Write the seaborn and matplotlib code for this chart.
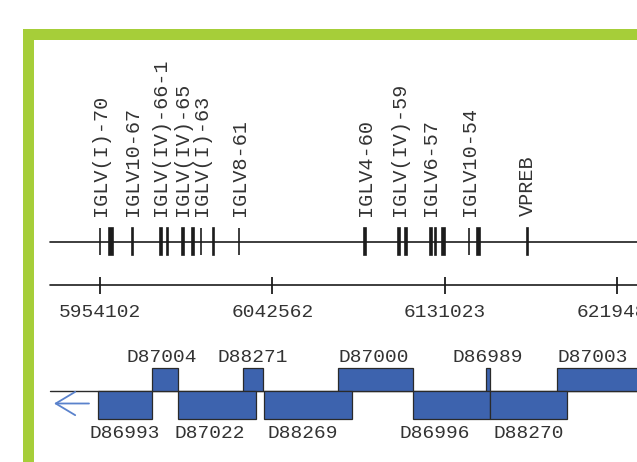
import matplotlib
matplotlib.use("Agg")
import matplotlib.pyplot as plt
from matplotlib.patches import Rectangle
import seaborn as sns

# --- data (genomic coordinates, bp) ---
gene_names = ["IGLV(I)-70", "", "IGLV10-67", "IGLV(IV)-66-1", "", "IGLV(IV)-65", "",
              "IGLV(I)-63", "", "IGLV8-61", "IGLV4-60", "IGLV(IV)-59", "", "IGLV6-57",
              "", "", "IGLV10-54", "", "VPREB"]
gene_pos = [5954080, 5959620, 5970650, 5985219, 5988605, 5996505, 6001789,
            6005893, 6012408, 6025387, 6090025, 6107467, 6111058, 6123729,
            6126089, 6130398, 6143377, 6148353, 6173490]
gene_len = [350, 1850, 350, 975, 350, 975, 1330,
            350, 350, 350, 1180, 1180, 1030, 975,
            670, 1330, 350, 1330, 350]

scale_ticks = [5954102, 6042562, 6131023, 6219484]

upper_clones = ["D87004", "D88271", "D87000", "D86989", "D87003"]
upper_start = [5980756, 6027439, 6076174, 6152098, 6188521]
upper_end = [5994094, 6037699, 6114649, 6154150, 6232000]

lower_clones = ["D86993", "D87022", "D88269", "D86996", "D88270"]
lower_start = [5953054, 5994094, 6038212, 6114649, 6154150]
lower_end = [5980756, 6034108, 6083356, 6154150, 6193651]

# --- layout ---
W, H = 637, 462
BP_PER_PX = 513.0
REF_PX, REF_BP = 358.7, 6086793
label_nudge_px = {"D87022": -7, "D88269": -5, "D86996": -17, "D87003": -7,
                  "D87004": -3, "D87000": -2}

GREEN = "#a6ce39"
BLUE = "#3d63ae"
EDGE = "#2a2a2a"
INK = "#1c1c1c"
TXT = "#333333"

sns.set_theme(style="white")
plt.rcParams["font.family"] = ["Liberation Mono", "DejaVu Sans Mono"]

fig = plt.figure(figsize=(W / 100, H / 100), dpi=100)
ax = fig.add_axes([0, 0, 1, 1])
ax.set_xlim(REF_BP - REF_PX * BP_PER_PX, REF_BP + (W - REF_PX) * BP_PER_PX)
ax.set_ylim(H, 0)
ax.axis("off")

x0 = 50 / W

# gene track
ax.axhline(241.5, xmin=x0, xmax=1, color=INK, lw=1.2)
ax.bar(gene_pos, [27] * len(gene_pos), width=gene_len, bottom=228,
       color=INK, edgecolor=INK, linewidth=1.2, align="center")
for name, p in zip(gene_names, gene_pos):
    if name:
        ax.text(p, 216, name, rotation=90, ha="center", va="bottom",
                fontsize=14.5, color=TXT)

# scale bar
ax.axhline(285, xmin=x0, xmax=1, color=INK, lw=1.2)
ax.vlines(scale_ticks, 277, 294, color=INK, lw=1.3)
for t in scale_ticks:
    ax.text(t, 312.5, str(t), ha="center", va="center", fontsize=14, color=TXT)

# clone contig track
base_y = 390.5
ax.axhline(base_y, xmin=x0, xmax=1, color=EDGE, lw=1.0, zorder=1)
ax.bar(upper_start, [22.2] * len(upper_start),
       width=[e - s for s, e in zip(upper_start, upper_end)], bottom=368.3,
       align="edge", color=BLUE, edgecolor=EDGE, linewidth=0.9, zorder=2)
ax.bar(lower_start, [28.5] * len(lower_start),
       width=[e - s for s, e in zip(lower_start, lower_end)], bottom=base_y,
       align="edge", color=BLUE, edgecolor=EDGE, linewidth=0.9, zorder=2)
for name, s, e in zip(upper_clones, upper_start, upper_end):
    lx = (s + e) / 2 + label_nudge_px.get(name, 0) * BP_PER_PX
    ax.text(lx, 358, name, ha="center", va="center", fontsize=14, color=TXT)
for name, s, e in zip(lower_clones, lower_start, lower_end):
    lx = (s + e) / 2 + label_nudge_px.get(name, 0) * BP_PER_PX
    ax.text(lx, 433, name, ha="center", va="center", fontsize=14, color=TXT)

# orientation arrow
ay = 1 - 403.5 / H
ax.annotate("", xy=(54 / W, ay), xytext=(89 / W, ay), xycoords="axes fraction",
            arrowprops=dict(arrowstyle="->, head_length=1.0, head_width=0.6",
                            color="#5a82cc", lw=1.3, mutation_scale=14,
                            shrinkA=0, shrinkB=0))

# green frame
frame = Rectangle((27.5 / W, -4.5 / H), 2.0, (462 - 33.5 + 4.5) / H,
                  transform=fig.transFigure, fill=False, edgecolor=GREEN,
                  linewidth=11 * 0.72, clip_on=False)
fig.patches.append(frame)

fig.savefig("out.png", dpi=100)
